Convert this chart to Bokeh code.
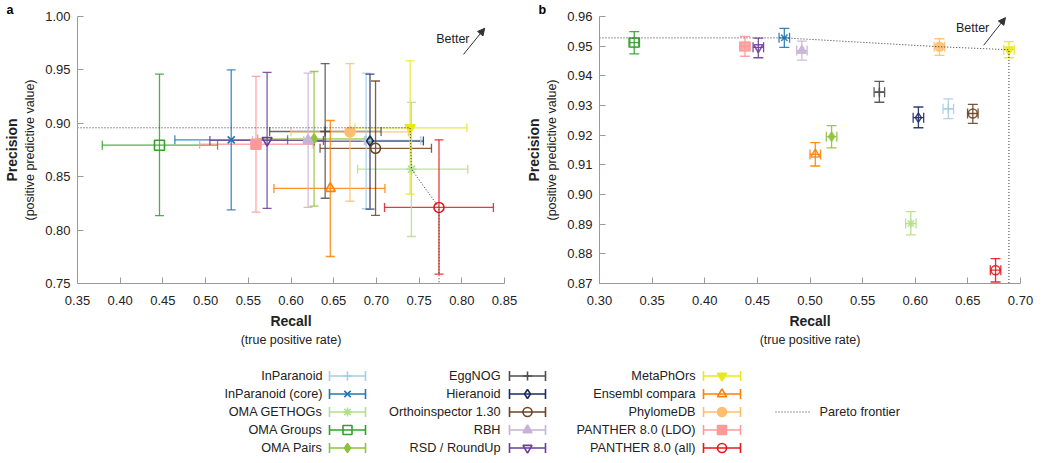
import numpy as np
from bokeh.plotting import figure
from bokeh.models import (Range1d, FixedTicker, PrintfTickFormatter, LinearAxis,
                          ColumnDataSource, Label, Arrow, NormalHead)
from bokeh.layouts import column, row
from bokeh.embed import file_html
from bokeh.resources import INLINE
from bokeh.core.properties import value, field

FONT = "Liberation Sans"

methods = ["InParanoid", "InParanoid (core)", "OMA GETHOGs", "OMA Groups", "OMA Pairs",
           "EggNOG", "Hieranoid", "Orthoinspector 1.30", "RBH", "RSD / RoundUp",
           "MetaPhOrs", "Ensembl compara", "PhylomeDB", "PANTHER 8.0 (LDO)", "PANTHER 8.0 (all)"]
colors = ["#a6cee3", "#1f78b4", "#b2df8a", "#33a02c", "#8fc23c",
          "#4d4d4d", "#1c2a66", "#6b4423", "#cab2d6", "#6a3d9a",
          "#e8e81c", "#ff7f00", "#fdbf6f", "#fb9a99", "#e31a1c"]
markers = ["cross", "x", "asterisk", "square", "diamond",
           "cross", "diamond", "circle", "triangle", "inverted_triangle",
           "inverted_triangle", "triangle", "circle", "square", "circle"]
filled = [1, 1, 1, 0, 1,
          1, 0, 0, 1, 0,
          1, 0, 1, 1, 0]

# panel a
a_recall    = [0.688, 0.530, 0.741, 0.446, 0.627, 0.640, 0.6925, 0.699, 0.620, 0.572, 0.7395, 0.646, 0.669, 0.559, 0.7733]
a_recall_lo = [0.615, 0.464, 0.678, 0.379, 0.561, 0.575, 0.627, 0.634, 0.555, 0.505, 0.675, 0.580, 0.600, 0.493, 0.7095]
a_recall_hi = [0.752, 0.596, 0.807, 0.514, 0.693, 0.7055, 0.755, 0.7645, 0.686, 0.638, 0.806, 0.710, 0.7375, 0.626, 0.837]
a_prec      = [0.884, 0.8845, 0.857, 0.8795, 0.8854, 0.8923, 0.8834, 0.8766, 0.884, 0.884, 0.8958, 0.839, 0.8919, 0.8804, 0.8212]
a_prec_lo   = [0.820, 0.819, 0.794, 0.8135, 0.8224, 0.8298, 0.8197, 0.8138, 0.8212, 0.8203, 0.8336, 0.7753, 0.827, 0.8168, 0.7587]
a_prec_hi   = [0.947, 0.950, 0.9195, 0.946, 0.9485, 0.9559, 0.946, 0.9396, 0.947, 0.9476, 0.9585, 0.9026, 0.9559, 0.944, 0.8845]
a_pareto = ["MetaPhOrs", "OMA GETHOGs", "PANTHER 8.0 (all)"]

# panel b
b_recall    = [0.6314, 0.4756, 0.5958, 0.333, 0.5205, 0.5659, 0.603, 0.6547, 0.4923, 0.4509, 0.689, 0.505, 0.623, 0.4382, 0.6763]
b_recall_lo = [0.6264, 0.4706, 0.5908, 0.328, 0.5155, 0.5609, 0.598, 0.6497, 0.4873, 0.4459, 0.684, 0.500, 0.618, 0.4332, 0.6713]
b_recall_hi = [0.6364, 0.4806, 0.6008, 0.338, 0.5255, 0.5709, 0.608, 0.6597, 0.4973, 0.4559, 0.694, 0.510, 0.628, 0.4432, 0.6813]
b_prec      = [0.9289, 0.9528, 0.8902, 0.9512, 0.9195, 0.9345, 0.9259, 0.9273, 0.9485, 0.9496, 0.9488, 0.9135, 0.9498, 0.9499, 0.8745]
b_prec_lo   = [0.9256, 0.9496, 0.8864, 0.9474, 0.9157, 0.9311, 0.9225, 0.9240, 0.9453, 0.9461, 0.9461, 0.9096, 0.9469, 0.9466, 0.8705]
b_prec_hi   = [0.9322, 0.9560, 0.8942, 0.9549, 0.9232, 0.9381, 0.9295, 0.9304, 0.9517, 0.9527, 0.9515, 0.9175, 0.9525, 0.9533, 0.8784]
b_pareto = ["InParanoid (core)", "PhylomeDB", "MetaPhOrs"]

a_xticks = [0.35, 0.40, 0.45, 0.50, 0.55, 0.60, 0.65, 0.70, 0.75, 0.80, 0.85]
a_yticks = [0.75, 0.80, 0.85, 0.90, 0.95, 1.00]
b_xticks = [0.30, 0.35, 0.40, 0.45, 0.50, 0.55, 0.60, 0.65, 0.70]
b_yticks = [0.87, 0.88, 0.89, 0.90, 0.91, 0.92, 0.93, 0.94, 0.95, 0.96]

AXC = "#9a9a9a"
TXC = "#222222"
PH = 353
LH = 102


def make_panel(width, xr, yr, xticks, yticks, mbl, mbr, letter, loff):
    p = figure(width=width, height=PH, x_range=Range1d(*xr), y_range=Range1d(*yr),
               output_backend="svg", toolbar_location=None,
               min_border_left=mbl, min_border_right=mbr, min_border_top=0, min_border_bottom=70)
    p.grid.visible = False
    p.outline_line_color = None
    # panel letter as a left-shifted title
    p.title.text = letter
    p.title.text_font = FONT
    p.title.text_font_size = "12.5px"
    p.title.text_font_style = "bold"
    p.title.text_color = "#000000"
    p.title.align = "left"
    p.title.standoff = 0
    p.title.offset = loff
    for ax, ticks in ((p.xaxis[0], xticks), (p.yaxis[0], yticks)):
        ax.ticker = FixedTicker(ticks=ticks)
        ax.formatter = PrintfTickFormatter(format="%.2f")
        ax.minor_tick_line_color = None
        ax.major_tick_in = 6
        ax.major_tick_out = 0
        ax.axis_line_color = AXC
        ax.major_tick_line_color = AXC
        ax.major_label_text_font = FONT
        ax.major_label_text_font_size = "13px"
        ax.major_label_text_color = TXC
        ax.axis_label_text_font = FONT
        ax.axis_label_text_color = TXC
    p.xaxis[0].major_label_standoff = 12
    p.yaxis[0].major_label_standoff = 7
    p.xaxis[0].axis_label = "Recall"
    p.xaxis[0].axis_label_text_font_style = "bold"
    p.xaxis[0].axis_label_text_font_size = "14px"
    p.xaxis[0].axis_label_standoff = 5
    p.yaxis[0].axis_label = "(positive predictive value)"
    p.yaxis[0].axis_label_text_font_style = "normal"
    p.yaxis[0].axis_label_text_font_size = "12.5px"
    p.yaxis[0].axis_label_standoff = 5

    def extra(label, size, style):
        return LinearAxis(axis_label=label, ticker=FixedTicker(ticks=[]),
                          axis_line_color=None, major_tick_line_color=None,
                          minor_tick_line_color=None, major_label_text_font_size="0px",
                          axis_label_standoff=1, axis_label_text_font=FONT,
                          axis_label_text_font_size=size, axis_label_text_font_style=style,
                          axis_label_text_color=TXC, major_tick_in=0, major_tick_out=0,
                          major_label_standoff=0)
    p.add_layout(extra("(true positive rate)", "12.5px", "normal"), "below")
    p.add_layout(extra("Precision", "14px", "bold"), "left")
    return p


def draw(p, r, rlo, rhi, pr, plo, phi, cap, msize, alpha, malpha):
    src = ColumnDataSource(dict(r=r, rlo=rlo, rhi=rhi, p=pr, plo=plo, phi=phi,
                                color=colors, marker=markers,
                                fa=[malpha if f else 0.0 for f in filled]))
    kw = dict(line_color="color", line_alpha=alpha, line_width=1.3, source=src)
    p.segment(x0="rlo", y0="p", x1="rhi", y1="p", **kw)
    p.segment(x0="r", y0="plo", x1="r", y1="phi", **kw)
    p.scatter(x="rlo", y="p", marker="dash", angle=np.pi / 2, size=cap, **kw)
    p.scatter(x="rhi", y="p", marker="dash", angle=np.pi / 2, size=cap, **kw)
    p.scatter(x="r", y="plo", marker="dash", size=cap, **kw)
    p.scatter(x="r", y="phi", marker="dash", size=cap, **kw)
    p.scatter(x="r", y="p", marker=field("marker"), size=msize, line_color="color",
              line_alpha=malpha, line_width=1.6, fill_color="color", fill_alpha="fa", source=src)


def pareto(p, names, r, pr, x0, y0):
    idx = [methods.index(n) for n in names]
    xs = [x0] + [r[i] for i in idx] + [r[idx[-1]]]
    ys = [pr[idx[0]]] + [pr[i] for i in idx] + [y0]
    p.line(xs, ys, line_color="#333333", line_width=1, line_dash="1 2")


# panel a
pa = make_panel(522, (0.35, 0.85), (0.75, 1.00), a_xticks, a_yticks, 71, 18, "a", -71)
draw(pa, a_recall, a_recall_lo, a_recall_hi, a_prec, a_prec_lo, a_prec_hi, 9, 10, 0.85, 1.0)
pareto(pa, a_pareto, a_recall, a_prec, 0.35, 0.75)
pa.add_layout(Label(x=0.7895, y=0.979, text="Better", text_font=FONT, text_font_size="12.5px",
                    text_align="center", text_baseline="middle", text_color=TXC))
pa.add_layout(Arrow(end=NormalHead(size=7, fill_color="#333333", line_color="#333333"),
                    x_start=0.802, y_start=0.9645, x_end=0.8268, y_end=0.989,
                    line_color="#333333", line_width=1))

# panel b
pb = make_panel(512, (0.30, 0.70), (0.87, 0.96), b_xticks, b_yticks, 72, 14, "b", -61)
draw(pb, b_recall, b_recall_lo, b_recall_hi, b_prec, b_prec_lo, b_prec_hi, 10, 9, 0.9, 0.85)
pareto(pb, b_pareto, b_recall, b_prec, 0.30, 0.87)
pb.add_layout(Label(x=0.6545, y=0.956, text="Better", text_font=FONT, text_font_size="12.5px",
                    text_align="center", text_baseline="middle", text_color=TXC))
pb.add_layout(Arrow(end=NormalHead(size=7, fill_color="#333333", line_color="#333333"),
                    x_start=0.665, y_start=0.9503, x_end=0.6857, y_end=0.9596,
                    line_color="#333333", line_width=1))

# legend
leg = figure(width=1034, height=LH, x_range=Range1d(0, 1034), y_range=Range1d(LH, 0),
             output_backend="svg", toolbar_location=None, min_border=0,
             x_axis_type=None, y_axis_type=None)
leg.grid.visible = False
leg.outline_line_color = None
col_text = [322, 500, 695]
col_g0 = [329, 509, 703]
col_g1 = [365, 545, 740]
row0, dy = 22.5, 18
lx, ly, lg0, lg1 = [], [], [], []
for i, m in enumerate(methods):
    c, rr = divmod(i, 5)
    lx.append(col_text[c])
    ly.append(row0 + rr * dy)
    lg0.append(col_g0[c])
    lg1.append(col_g1[c])
lsrc = ColumnDataSource(dict(x=lx, y=ly, g0=lg0, g1=lg1, gm=[(a + b) / 2 for a, b in zip(lg0, lg1)],
                             text=methods, color=colors, marker=markers,
                             fa=[1.0 if f else 0.0 for f in filled]))
leg.text(x="x", y="y", text="text", text_align="right", text_baseline="middle",
         text_font=value(FONT), text_font_size="12.7px", text_color=TXC, source=lsrc)
leg.segment(x0="g0", y0="y", x1="g1", y1="y", line_color="color", line_width=1.6, source=lsrc)
leg.scatter(x="g0", y="y", marker="dash", angle=np.pi / 2, size=10, line_color="color", line_width=1.6, source=lsrc)
leg.scatter(x="g1", y="y", marker="dash", angle=np.pi / 2, size=10, line_color="color", line_width=1.6, source=lsrc)
leg.scatter(x="gm", y="y", marker=field("marker"), size=9, line_color="color", line_width=1.6,
            fill_color="color", fill_alpha="fa", source=lsrc)
py = row0 + 2 * dy
leg.line([775, 809], [py, py], line_color="#333333", line_width=1, line_dash="1 2")
leg.text(x=[819], y=[py], text=["Pareto frontier"], text_align="left", text_baseline="middle",
         text_font=value(FONT), text_font_size="12.7px", text_color=TXC)

layout = column(row(pa, pb), leg)
open("out.html", "w").write(file_html(layout, INLINE))
